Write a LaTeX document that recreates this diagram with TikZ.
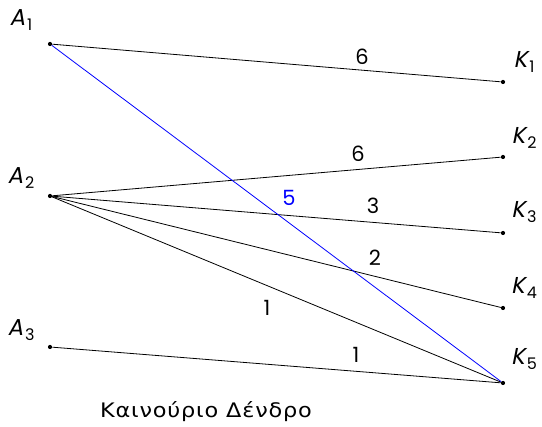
\documentclass[tikz,border=0pt]{standalone}
\usepackage{fontspec}
\setmainfont{Poppins}
\newfontfamily\slfont[FakeSlant=0.2]{Poppins}
\newfontfamily\grfont[LetterSpace=4,FakeStretch=1.12]{DejaVu Sans}
\newcommand\vlab[2]{{\slfont #1}\kern2pt\raisebox{-0.45ex}{\fontsize{16}{16}\selectfont #2}}
\tikzset{
  dot/.style={circle,fill=black,inner sep=0pt,minimum size=4.2pt},
  edge/.style={line width=0.8pt,black},
  bedge/.style={line width=0.8pt,blue},
  vname/.style={font=\fontsize{23}{23}\selectfont,inner sep=0pt},
  wt/.style={font=\fontsize{21}{21}\selectfont,inner sep=0pt},
  captext/.style={font=\grfont\fontsize{20}{20}\selectfont,inner sep=0pt}
}
\begin{document}
\begin{tikzpicture}[x=1pt,y=-1pt]
\useasboundingbox (0,0) rectangle (542,427);
% vertices
\node[dot] (A1) at (50,44) {};
\node[dot] (A2) at (50,196) {};
\node[dot] (A3) at (50,347) {};
\node[dot] (K1) at (503,82) {};
\node[dot] (K2) at (503,157) {};
\node[dot] (K3) at (503,233) {};
\node[dot] (K4) at (503,308) {};
\node[dot] (K5) at (503,383) {};
% vertex names
\node[vname] (lA1) at (21,20) {\vlab{A}{1}};
\node[vname] (lA2) at (21,178) {\vlab{A}{2}};
\node[vname] (lA3) at (21,330) {\vlab{A}{3}};
\node[vname] (lK1) at (524,62) {\vlab{K}{1}};
\node[vname] (lK2) at (524,138) {\vlab{K}{2}};
\node[vname] (lK3) at (524,212) {\vlab{K}{3}};
\node[vname] (lK4) at (524,288) {\vlab{K}{4}};
\node[vname] (lK5) at (524,359) {\vlab{K}{5}};
% edges
\draw[edge] (A1) -- (K1);
\draw[edge] (A2) -- (K2);
\draw[edge] (A2) -- (K3);
\draw[edge] (A2) -- (K4);
\draw[edge] (A2) -- (K5);
\draw[edge] (A3) -- (K5);
\draw[bedge] (A1) -- (K5);
% weights
\node[wt] (w1) at (362,57) {6};
\node[wt] (w2) at (358,154) {6};
\node[wt,text=blue] (w3) at (289,198) {5};
\node[wt] (w4) at (373,206) {3};
\node[wt] (w5) at (375,258) {2};
\node[wt] (w6) at (267,308) {1};
\node[wt] (w7) at (356,355) {1};
% caption
\node[captext] (title) at (206,412) {Καινούριο Δένδρο};
\end{tikzpicture}
\end{document}
